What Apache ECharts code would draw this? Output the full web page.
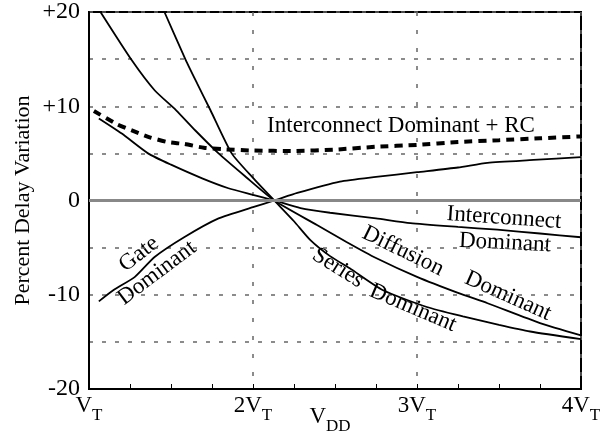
<!DOCTYPE html>
<html>
<head>
<meta charset="utf-8">
<script src="https://cdn.jsdelivr.net/npm/echarts@6/dist/echarts.min.js"></script>
<style>
  html, body { margin: 0; padding: 0; background: #fff; }
  #chart { width: 606px; height: 433px; }
</style>
</head>
<body>
<div id="chart"></div>
<script>
// V_DD in units of V_T
var gateX = [1.06, 1.15, 1.28, 1.4, 1.58, 1.79, 2.0, 2.13, 2.27, 2.53, 2.75, 3.0, 3.25, 3.43, 3.71, 4.0]
var gateY = [-10.7, -9.5, -8.1, -6.0, -3.9, -1.9, -0.7, 0, 0.8, 2.0, 2.5, 3.0, 3.5, 4.0, 4.3, 4.6]

var interX = [1.06, 1.2, 1.36, 1.5, 1.69, 1.85, 2.0, 2.13, 2.29, 2.47, 2.75, 2.96, 3.25, 3.49, 3.75, 4.0]
var interY = [8.7, 7.1, 5.0, 3.8, 2.35, 1.3, 0.6, 0, -0.8, -1.3, -1.9, -2.4, -2.8, -3.1, -3.5, -3.9]

var diffX = [1.07, 1.26, 1.4, 1.53, 1.65, 1.79, 1.95, 2.13, 2.39, 2.57, 2.75, 3.0, 3.25, 3.43, 3.75, 4.0]
var diffY = [20, 14.9, 11.7, 9.6, 7.4, 5.0, 2.6, 0, -2.6, -4.4, -6.1, -8.1, -9.8, -10.9, -13.0, -14.3]

var seriesX = [1.46, 1.59, 1.66, 1.74, 1.87, 2.0, 2.13, 2.25, 2.35, 2.47, 2.59, 2.79, 3.06, 3.28, 3.5, 3.69, 4.0]
var seriesY = [20, 14.9, 12.4, 9.6, 5.0, 2.4, 0, -2.2, -4.2, -5.9, -7.2, -9.5, -11.3, -12.3, -13.2, -13.9, -14.7]

var rcX = [1.03, 1.17, 1.28, 1.37, 1.48, 1.58, 1.7, 1.81, 2.0, 2.25, 2.5, 2.75, 3.0, 3.25, 3.5, 3.75, 4.0]
var rcY = [9.5, 8.1, 7.3, 6.7, 6.2, 6.0, 5.6, 5.45, 5.3, 5.25, 5.4, 5.7, 5.9, 6.2, 6.4, 6.6, 6.8]

var xTickLabels = { 1: '{v|V}{s|T}', 2: '{v|2V}{s|T}', 3: '{v|3V}{s|T}', 4: '{v|4V}{s|T}' }
var yTickLabels = { '20': '+20', '10': '+10', '0': '0', '-10': '-10', '-20': '-20' }

function pairs(xs, ys) {
  return xs.map(function (x, i) { return [x, ys[i]] })
}

var serif = 'Liberation Serif'
var chart = echarts.init(document.getElementById('chart'))

var subRich = {
  v: { fontFamily: serif, fontSize: 23, color: '#000', lineHeight: 30, verticalAlign: 'top' },
  s: { fontFamily: serif, fontSize: 17, color: '#000', lineHeight: 30, verticalAlign: 'bottom' }
}

function curve(name, xs, ys) {
  return {
    name: name,
    type: 'line',
    data: pairs(xs, ys),
    showSymbol: false,
    symbol: 'none',
    smooth: 0.2,
    clip: true,
    lineStyle: { color: '#000', width: 1.8 }
  }
}

function label(text, x, y, deg) {
  return {
    type: 'text',
    x: x,
    y: y,
    rotation: deg * Math.PI / 180,
    style: {
      text: text,
      fontFamily: serif,
      fontSize: 23,
      fill: '#000',
      align: 'center',
      verticalAlign: 'middle'
    }
  }
}

chart.setOption({
  animation: false,
  backgroundColor: '#fff',
  grid: {
    left: 89,
    right: 25,
    top: 12,
    bottom: 44,
    containLabel: false,
    outerBoundsMode: 'none',
    show: true,
    borderColor: '#000',
    borderWidth: 2
  },
  xAxis: {
    type: 'value',
    min: 1,
    max: 4,
    interval: 1,
    name: '{v|V}{s|DD}',
    nameLocation: 'middle',
    nameGap: 16,
    nameMoveOverlap: false,
    nameTextStyle: { rich: subRich, padding: [0, 10, 0, 0] },
    axisLine: { onZero: false, lineStyle: { color: '#000', width: 2 } },
    axisTick: { show: true, inside: true, length: 5, lineStyle: { color: '#000', width: 1 } },
    minorTick: { show: true, splitNumber: 4, length: 5, lineStyle: { color: '#000', width: 1 } },
    axisLabel: {
      margin: 5,
      formatter: function (v) { return xTickLabels[v] || '' },
      rich: subRich
    },
    splitLine: { show: true, lineStyle: { color: '#666', width: 1.5, type: [4, 14] } }
  },
  yAxis: {
    type: 'value',
    min: -20,
    max: 20,
    interval: 5,
    name: 'Percent Delay Variation',
    nameLocation: 'middle',
    nameGap: 55,
    nameMoveOverlap: false,
    nameTextStyle: { fontFamily: serif, fontSize: 22, color: '#000' },
    axisLine: { lineStyle: { color: '#000', width: 2 } },
    axisTick: { show: false },
    axisLabel: {
      margin: 9,
      fontFamily: serif,
      fontSize: 24,
      color: '#000',
      formatter: function (v) { return yTickLabels[String(v)] || '' }
    },
    splitLine: { show: true, lineStyle: { color: '#666', width: 1.5, type: [4, 9] } }
  },
  series: [
    Object.assign(curve('Gate Dominant', gateX, gateY), {
      markLine: {
        silent: true,
        symbol: 'none',
        label: { show: false },
        lineStyle: { color: '#888', width: 3, type: 'solid' },
        data: [{ yAxis: 0 }]
      }
    }),
    curve('Interconnect Dominant', interX, interY),
    curve('Diffusion Dominant', diffX, diffY),
    curve('Series Dominant', seriesX, seriesY),
    {
      name: 'Interconnect Dominant + RC',
      type: 'line',
      data: pairs(rcX, rcY),
      showSymbol: false,
      symbol: 'none',
      smooth: 0.2,
      lineStyle: { color: '#000', width: 4, type: [8, 6] }
    }
  ],
  graphic: [
    label('Interconnect Dominant + RC', 401, 126, 0),
    label('Interconnect', 504, 218, -4),
    label('Dominant', 505, 243, -3),
    label('Diffusion', 403, 251, -26),
    label('Dominant', 508, 296, -24),
    label('Series', 338, 268, -32),
    label('Dominant', 413, 308, -23),
    label('Gate', 139, 254, 38),
    label('Dominant', 157, 273, 37)
  ]
})
</script>
</body>
</html>
